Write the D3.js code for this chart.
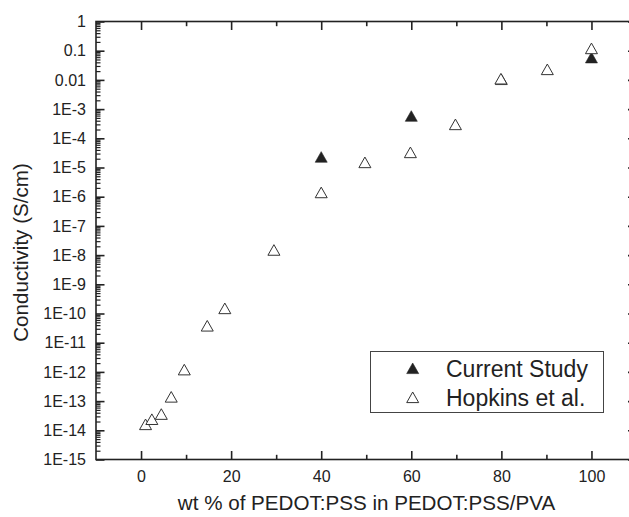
<!DOCTYPE html>
<html>
<head>
<meta charset="utf-8">
<script src="https://cdn.jsdelivr.net/npm/d3@7"></script>
<style>
  body { margin: 0; background: #fff; }
  svg { display: block; font-family: "Liberation Sans", Arial, sans-serif; }
</style>
</head>
<body>
<div id="chart"></div>
<script>
// Current Study (filled triangles)
const currentX = [40, 60, 80, 100];
const currentY = [2.3e-5, 5.8e-4, 0.0105, 0.058];

// Hopkins et al. (hollow triangles)
const hopkinsX = [1, 2.4, 4.5, 6.7, 9.6, 14.7, 18.6, 29.5, 40, 49.7, 59.8, 69.8, 79.9, 90.2, 100];
const hopkinsY = [1.6e-14, 2.4e-14, 3.6e-14, 1.4e-13, 1.2e-12, 3.8e-11, 1.5e-10, 1.5e-8, 1.4e-6, 1.5e-5, 3.3e-5, 3.0e-4, 0.011, 0.023, 0.12];

// tick labels
const xTicks = [0, 20, 40, 60, 80, 100];
const xMinor = [10, 30, 50, 70, 90];
const yTicks = [1, 0.1, 0.01, 1e-3, 1e-4, 1e-5, 1e-6, 1e-7, 1e-8, 1e-9, 1e-10, 1e-11, 1e-12, 1e-13, 1e-14, 1e-15];
const yLabels = ["1", "0.1", "0.01", "1E-3", "1E-4", "1E-5", "1E-6", "1E-7", "1E-8", "1E-9", "1E-10", "1E-11", "1E-12", "1E-13", "1E-14", "1E-15"];

const seriesNames = ["Current Study", "Hopkins et al."];

const width = 629, height = 517;
const ink = "#222";

const x = d3.scaleLinear().domain([-10, 110]).range([96, 636.5]);
const y = d3.scaleLog().domain([1e-15, 1]).range([459.5, 21.5]);

const svg = d3.select("#chart").append("svg")
    .attr("width", width)
    .attr("height", height);

// minor log ticks (2..9 in each decade)
const yMinor = [];
yTicks.slice(1).forEach(d => {
    for (let k = 2; k <= 9; k++) yMinor.push(d * k);
});

function styleAxis(g) {
    g.select(".domain").remove();
    g.selectAll(".tick line").attr("stroke", ink).attr("stroke-width", 1.6);
    g.selectAll("text").attr("fill", ink).attr("font-size", 16);
}

// bottom axis
svg.append("g")
    .attr("transform", `translate(0,${y.range()[0]})`)
    .call(d3.axisBottom(x).tickValues(xTicks).tickSize(-8.5).tickPadding(11).tickFormat(d3.format("d")))
    .call(styleAxis);
svg.append("g")
    .attr("transform", `translate(0,${y.range()[0]})`)
    .call(d3.axisBottom(x).tickValues(xMinor).tickSize(-4.7).tickFormat(""))
    .call(styleAxis);

// top axis
svg.append("g")
    .attr("transform", `translate(0,${y.range()[1]})`)
    .call(d3.axisTop(x).tickValues(xTicks).tickSize(-8.5).tickFormat(""))
    .call(styleAxis);
svg.append("g")
    .attr("transform", `translate(0,${y.range()[1]})`)
    .call(d3.axisTop(x).tickValues(xMinor).tickSize(-4.7).tickFormat(""))
    .call(styleAxis);

// left axis
svg.append("g")
    .attr("transform", `translate(${x.range()[0]},0)`)
    .call(d3.axisLeft(y).tickValues(yTicks).tickSize(-8.5).tickPadding(10)
        .tickFormat((d, i) => yLabels[i]))
    .call(styleAxis);
svg.append("g")
    .attr("transform", `translate(${x.range()[0]},0)`)
    .call(d3.axisLeft(y).tickValues(yMinor).tickSize(-4.5).tickFormat(""))
    .call(styleAxis)
    .selectAll(".tick line").attr("stroke-width", 1.2);

// right axis
svg.append("g")
    .attr("transform", `translate(${x.range()[1]},0)`)
    .call(d3.axisRight(y).tickValues(yTicks).tickSize(-8.5).tickFormat(""))
    .call(styleAxis);

// frame
svg.append("rect")
    .attr("x", x.range()[0])
    .attr("y", y.range()[1])
    .attr("width", x.range()[1] - x.range()[0])
    .attr("height", y.range()[0] - y.range()[1])
    .attr("fill", "none")
    .attr("stroke", ink)
    .attr("stroke-width", 1.6);

// triangle marker, centred on its bounding box
const tri = {
    draw(ctx) {
        ctx.moveTo(0, -5.3);
        ctx.lineTo(6, 5.3);
        ctx.lineTo(-6, 5.3);
        ctx.closePath();
    }
};
const triPath = d3.symbol().type(tri)();

// filled points first, hollow on top
svg.append("g").selectAll("path")
    .data(currentX.map((d, i) => [d, currentY[i]]))
    .join("path")
    .attr("d", triPath)
    .attr("transform", d => `translate(${x(d[0])},${y(d[1])})`)
    .attr("fill", ink)
    .attr("stroke", ink)
    .attr("stroke-width", 0.6);

svg.append("g").selectAll("path")
    .data(hopkinsX.map((d, i) => [d, hopkinsY[i]]))
    .join("path")
    .attr("d", triPath)
    .attr("transform", d => `translate(${x(d[0])},${y(d[1])})`)
    .attr("fill", "#fff")
    .attr("stroke", "#333")
    .attr("stroke-width", 1);

// axis titles
svg.append("text")
    .attr("x", 366.5)
    .attr("y", 510)
    .attr("text-anchor", "middle")
    .attr("font-size", 20.6)
    .attr("fill", ink)
    .text("wt % of PEDOT:PSS in PEDOT:PSS/PVA");

svg.append("text")
    .attr("transform", "translate(28,252.5) rotate(-90)")
    .attr("text-anchor", "middle")
    .attr("font-size", 20.6)
    .attr("fill", ink)
    .text("Conductivity (S/cm)");

// legend
const legend = svg.append("g");
legend.append("rect")
    .attr("x", 370.5)
    .attr("y", 351.5)
    .attr("width", 233)
    .attr("height", 61)
    .attr("fill", "#fff")
    .attr("stroke", "#444")
    .attr("stroke-width", 1);

seriesNames.forEach((name, i) => {
    const cy = 368.3 + i * 29;
    legend.append("path")
        .attr("d", triPath)
        .attr("transform", `translate(412.7,${cy})`)
        .attr("fill", i === 0 ? ink : "#fff")
        .attr("stroke", i === 0 ? ink : "#333")
        .attr("stroke-width", i === 0 ? 0.6 : 1);
    legend.append("text")
        .attr("x", 446)
        .attr("y", cy + 8.3)
        .attr("font-size", 23)
        .attr("fill", ink)
        .text(name);
});
</script>
</body>
</html>
